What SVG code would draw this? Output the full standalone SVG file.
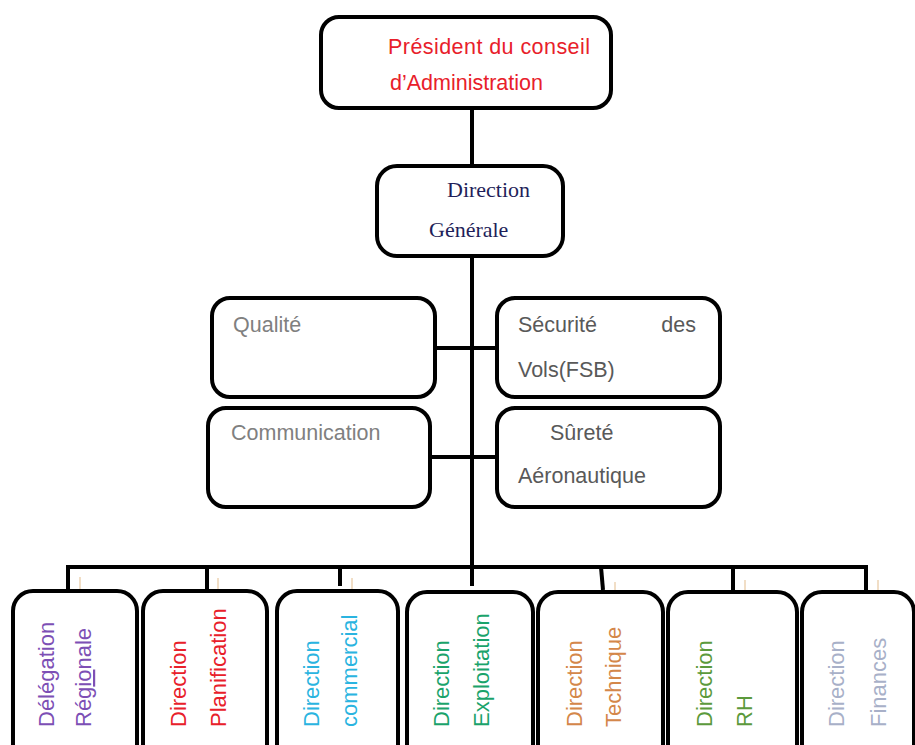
<svg xmlns="http://www.w3.org/2000/svg" width="915" height="745" viewBox="0 0 915 745">
<style>
.box{fill:#fff;stroke:#000;stroke-width:4}
.ln{stroke:#000;stroke-width:4;fill:none}
.tick{stroke:#e8c8a0;stroke-width:1.2}
.sans{font-family:"Liberation Sans",Arial,sans-serif;font-size:21.5px}
.serif{font-family:"Liberation Serif","Times New Roman",serif;font-size:22px;fill:#1f1f5a}
.v{font-family:"Liberation Sans",Arial,sans-serif;font-size:22px}
</style>
<rect width="915" height="745" fill="#fff"/>
<g id="connectors">
<line class="ln" x1="472" y1="108" x2="472" y2="166"/>
<line class="ln" x1="472" y1="256" x2="472" y2="586"/>
<line class="ln" x1="435" y1="348" x2="497" y2="348"/>
<line class="ln" x1="430" y1="457" x2="497" y2="457"/>
<line class="ln" x1="66" y1="567" x2="868" y2="567"/>
<line class="ln" x1="68" y1="567" x2="68" y2="598"/>
<line class="ln" x1="207" y1="567" x2="207" y2="597"/>
<line class="ln" x1="340" y1="567" x2="340" y2="586"/>
<line class="ln" x1="601" y1="567" x2="603" y2="590"/>
<line class="ln" x1="733" y1="567" x2="733" y2="597"/>
<line class="ln" x1="866" y1="567" x2="866" y2="597"/>
</g>
<g id="president">
<rect class="box" x="321" y="17" width="290" height="91" rx="18"/>
<text class="sans" x="388" y="54" fill="#e8202a" textLength="202" lengthAdjust="spacing">Président du conseil</text>
<text class="sans" x="390" y="90" fill="#e8202a">d’Administration</text>
</g>
<g id="dg">
<rect class="box" x="377" y="166" width="186" height="90" rx="20"/>
<text class="serif" x="447" y="197">Direction</text>
<text class="serif" x="429" y="237">Générale</text>
</g>
<g id="qualite">
<rect class="box" x="212" y="298" width="223" height="99" rx="18"/>
<text class="sans" x="233" y="332" fill="#808080">Qualité</text>
</g>
<g id="securite">
<rect class="box" x="497" y="298" width="223" height="99" rx="18"/>
<text class="sans" x="518" y="332" fill="#595959">Sécurité</text>
<text class="sans" x="696" y="332" fill="#595959" text-anchor="end">des</text>
<text class="sans" x="518" y="377" fill="#595959">Vols(FSB)</text>
</g>
<g id="communication">
<rect class="box" x="208" y="408" width="222" height="99" rx="18"/>
<text class="sans" x="231" y="440" fill="#808080">Communication</text>
</g>
<g id="surete">
<rect class="box" x="497" y="408" width="223" height="99" rx="18"/>
<text class="sans" x="550" y="440" fill="#595959">Sûreté</text>
<text class="sans" x="518" y="483" fill="#595959">Aéronautique</text>
</g>
<g id="ticks">
<line class="tick" x1="80" y1="577" x2="80" y2="610"/>
<line class="tick" x1="218" y1="578" x2="218" y2="605"/>
<line class="tick" x1="352" y1="578" x2="352" y2="602"/>
<line class="tick" x1="615" y1="582" x2="615" y2="605"/>
<line class="tick" x1="745" y1="580" x2="745" y2="605"/>
<line class="tick" x1="878" y1="580" x2="878" y2="605"/>
</g>
<g id="delegation">
<rect class="box" x="13" y="591" width="124" height="180" rx="20"/>
<text class="v" fill="#7d4fb5" transform="translate(54,727) rotate(-90)">Délégation</text>
<text class="v" fill="#7d4fb5" transform="translate(91,727) rotate(-90)">Rég<tspan text-decoration="underline">io</tspan>nale</text>
</g>
<g id="planification">
<rect class="box" x="143" y="591" width="124" height="180" rx="20"/>
<text class="v" fill="#e8202a" transform="translate(186,727) rotate(-90)">Direction</text>
<text class="v" fill="#e8202a" transform="translate(226,727) rotate(-90)">Planification</text>
</g>
<g id="commercial">
<rect class="box" x="277" y="591" width="121" height="180" rx="20"/>
<text class="v" fill="#2ab4e0" transform="translate(319,727) rotate(-90)">Direction</text>
<text class="v" fill="#2ab4e0" transform="translate(357,727) rotate(-90)">commercial</text>
</g>
<g id="exploitation">
<rect class="box" x="407" y="592" width="126" height="180" rx="20"/>
<text class="v" fill="#1aa36b" transform="translate(449,727) rotate(-90)">Direction</text>
<text class="v" fill="#1aa36b" transform="translate(489,727) rotate(-90)">Exploitation</text>
</g>
<g id="technique">
<rect class="box" x="538" y="592" width="125" height="180" rx="20"/>
<text class="v" fill="#d4874a" transform="translate(582,727) rotate(-90)">Direction</text>
<text class="v" fill="#d4874a" transform="translate(621,727) rotate(-90)">Technique</text>
</g>
<g id="rh">
<rect class="box" x="668" y="592" width="129" height="180" rx="20"/>
<text class="v" fill="#5c9a3c" transform="translate(712,727) rotate(-90)">Direction</text>
<text class="v" fill="#5c9a3c" transform="translate(752,727) rotate(-90)">RH</text>
</g>
<g id="finances">
<rect class="box" x="802" y="592" width="112" height="180" rx="20"/>
<text class="v" fill="#a8b0c8" transform="translate(844,727) rotate(-90)">Direction</text>
<text class="v" fill="#a8b0c8" transform="translate(886,727) rotate(-90)">Finances</text>
</g>
</svg>
